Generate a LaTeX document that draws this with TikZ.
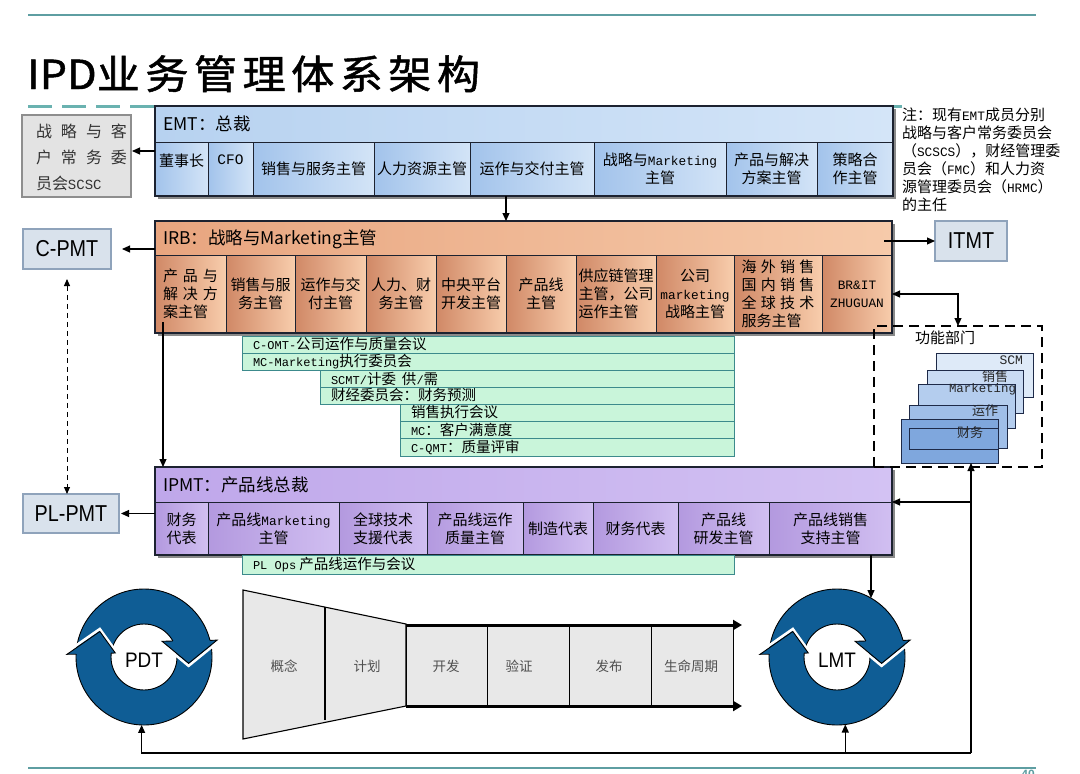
\documentclass[tikz,border=0pt]{standalone}
\usepackage{fontspec}
\usepackage{graphicx}
\setmainfont{Noto Sans CJK SC}
\newfontfamily\titlefam[FakeBold=1.2]{Noto Sans CJK SC}
\newfontfamily\monofam{Liberation Mono}
\newfontfamily\arialfam{Liberation Sans}
\usetikzlibrary{arrows.meta,calc}
\newcommand\fs[2]{\fontsize{#1pt}{#2pt}\selectfont}
\newcommand\mn{\monofam\fontsize{12.8pt}{18pt}\selectfont}
\newcommand\mns{\monofam\fontsize{12pt}{17pt}\selectfont}
\newcommand\gp{\hspace{5pt}}
\newcommand\tg{\hspace{5pt}}
\newcommand\bx[7]{\node[#6,anchor=north west,minimum width={#3-#2},minimum height={#5-#4}] (#1) at (#2,#4) {#7};}
\newcommand\pmt[1]{{\arialfam\fontsize{23pt}{23pt}\selectfont\scalebox{0.86}[1]{#1}}}
\definecolor{tealc}{HTML}{5E9EA2}
\definecolor{dashc}{HTML}{6AB2B0}
\definecolor{frame}{HTML}{1C2230}
\definecolor{emtHL}{HTML}{B7D2F0}\definecolor{emtHR}{HTML}{D4E5F8}
\definecolor{emtCL}{HTML}{A2C3EB}\definecolor{emtCR}{HTML}{D3E4F7}
\definecolor{irbHL}{HTML}{E8A57F}\definecolor{irbHR}{HTML}{F6CAAA}
\definecolor{irbCL}{HTML}{D08866}\definecolor{irbCR}{HTML}{F8CDAC}
\definecolor{ipHL}{HTML}{BFA7EA}\definecolor{ipHR}{HTML}{D3C2F3}
\definecolor{ipCL}{HTML}{B399DF}\definecolor{ipCR}{HTML}{D1BFF1}
\definecolor{gfill}{HTML}{C9F5DA}\definecolor{gline}{HTML}{3C8A8C}
\definecolor{grayfill}{HTML}{E3E3E3}\definecolor{grayline}{HTML}{8E8E8E}
\definecolor{pfill}{HTML}{D9E2EC}\definecolor{pline}{HTML}{8FA3BB}
\definecolor{phfill}{HTML}{E8E8E8}\definecolor{phtext}{HTML}{505050}
\definecolor{cblue}{HTML}{0F5D95}
\definecolor{stkline}{HTML}{1E2A48}
\definecolor{sa}{HTML}{DEEAF8}\definecolor{sb}{HTML}{C9DBF3}\definecolor{sc}{HTML}{B4CDEE}
\definecolor{sd}{HTML}{9FBEE8}\definecolor{se}{HTML}{7FA7DD}
\definecolor{shadowc}{HTML}{8A8A8A}
\newcommand\cyc[4]{%
 \node[circle,minimum size=136pt] (#1) at (#2,#3) {};
 \begin{scope}[shift={(#2,#3)},yscale=-1]
  \fill[cblue,even odd rule] (0,0) circle (68) (0,0) circle (33);
  \draw[line width=.9pt] (0,0) circle (68) (0,0) circle (33);
  \fill[cblue] (18.1,15.7) -- (44.6,-6.3) -- (73.1,16.9) -- cycle;
  \fill[cblue] (-28.7,4) -- (-44.2,25.5) -- (-77,2.7) -- cycle;
  \draw[white,line width=2.6pt] (18.1,13.2) -- (44.6,-8.8) -- (73.1,14.4);
  \draw[white,line width=2.6pt] (-28.7,6.5) -- (-44.2,28) -- (-77,5.2);
  \draw[line width=.9pt] (28.9,16) -- (18.1,15.7) -- (44.6,-6.3) -- (73.1,16.9) -- (65.9,16.6);
  \draw[line width=.9pt] (-32.8,3.9) -- (-28.7,4) -- (-44.2,25.5) -- (-77,2.7) -- (-67.9,2.8);
 \end{scope}
 \node[font=\arialfam\fontsize{21pt}{21pt}\selectfont] (#1t) at (#2,#3+3) {\scalebox{0.9}[1]{#4}};
}
\tikzset{
 every node/.style={inner sep=0pt,outer sep=0pt},
 cellb/.style={draw=frame,line width=1pt,align=center,font=\fs{15}{18},text=black},
 emthead/.style={draw=frame,line width=1pt,left color=emtHL,right color=emtHR},
 emtcell/.style={cellb,left color=emtCL,right color=emtCR},
 irbhead/.style={draw=frame,line width=1pt,left color=irbHL,right color=irbHR},
 irbcell/.style={cellb,left color=irbCL,right color=irbCR},
 iphead/.style={draw=frame,line width=1pt,left color=ipHL,right color=ipHR},
 ipcell/.style={cellb,left color=ipCL,right color=ipCR},
 frm/.style={draw=frame,line width=1.6pt},
 hd/.style={font=\fs{17.5}{20},anchor=west,text=black},
 gbox/.style={draw=gline,line width=1pt,fill=gfill},
 gtxt/.style={font=\fs{14.5}{17},anchor=west,text=black},
 graybox/.style={draw=grayline,line width=1.2pt,fill=grayfill},
 pbox/.style={draw=pline,line width=1.2pt,fill=pfill},
 dbox/.style={draw=black,line width=2pt,dash pattern=on 10pt off 6pt},
 stk/.style={draw=stkline,line width=1pt},
 stxt/.style={font=\fs{13}{15},text=black!85},
 phbox/.style={fill=phfill,draw=black,line width=1pt},
 phtxt/.style={font=\fs{13.5}{16},text=phtext},
 arr/.style={draw=black,line width=1.1pt,-{Triangle[length=8pt,width=7pt]}},
 arrb/.style={draw=black,line width=1.1pt,{Triangle[length=8pt,width=7pt]}-{Triangle[length=8pt,width=7pt]}},
 plain/.style={draw=black,line width=1.1pt},
}
\begin{document}
\begin{tikzpicture}[x=1pt,y=-1pt]
\useasboundingbox[fill=white] (0,0) rectangle (1080,774);
% rules
\draw[tealc,line width=1.5pt] (28,15) -- (1036,15);
\draw[tealc,line width=2pt] (28,768) -- (1036,768);
\node[anchor=north,font=\arialfam\bfseries\fontsize{12pt}{12pt}\selectfont,text=tealc] (pgno) at (1028,770) {40};
\draw[dashc,line width=3pt,dash pattern=on 24pt off 10pt] (28,106) -- (910,106);
% title
\node[anchor=base west,font=\titlefam\fs{40}{40}] (title) at (27,89) {\scalebox{1.08}[1]{IPD业\tg 务\tg 管\tg 理\tg 体\tg 系\tg 架\tg 构}};
% note
\node[anchor=north west,align=left,font=\fs{15}{18}] (note) at (902,108) {注：现有{\mn EMT}成员分别\\战略与客户常务委员会\\（{\mn SCSCS}），财经管理委\\员会（{\mn FMC}）和人力资\\源管理委员会（{\mn HRMC}）\\的主任};
% ---------- EMT
\fill[shadowc] (158,109) rectangle (896,199);
\bx{emth}{155}{893}{106}{142}{emthead}{}
\node[hd] (emtt) at (163,124) {EMT：总裁};
\bx{e1}{155}{208}{142}{196}{emtcell}{董事长\\~}
\bx{e2}{208}{253}{142}{196}{emtcell}{{\monofam\fontsize{14.5pt}{18pt}\selectfont CFO}\\~}
\bx{e3}{253}{374}{142}{196}{emtcell}{销售与服务主管}
\bx{e4}{374}{470}{142}{196}{emtcell}{人力资源主管}
\bx{e5}{470}{594}{142}{196}{emtcell}{运作与交付主管}
\bx{e6}{594}{726}{142}{196}{emtcell}{战略与{\mn Marketing}\\主管}
\bx{e7}{726}{817}{142}{196}{emtcell}{产品与解决\\方案主管}
\bx{e8}{817}{893}{142}{196}{emtcell}{策略合\\作主管}
\bx{emt}{155}{893}{106}{196}{frm}{}
% ---------- IRB
\fill[shadowc] (158,224) rectangle (895,336);
\bx{irbh}{155}{892}{221}{255}{irbhead}{}
\node[hd] (irbt) at (163,239) {IRB：战略与Marketing主管};
\bx{r1}{155}{226}{255}{333}{irbcell,align=left}{产\gp 品\gp 与\\解\gp 决\gp 方\\案主管}
\bx{r2}{226}{295}{255}{333}{irbcell}{销售与服\\务主管}
\bx{r3}{295}{366}{255}{333}{irbcell}{运作与交\\付主管}
\bx{r4}{366}{436}{255}{333}{irbcell}{人力、财\\务主管}
\bx{r5}{436}{506}{255}{333}{irbcell}{中央平台\\开发主管}
\bx{r6}{506}{576}{255}{333}{irbcell}{产品线\\主管}
\bx{r7}{576}{656}{255}{333}{irbcell,align=left}{供应链管理\\主管，公司\\运作主管}
\bx{r8}{656}{734}{255}{333}{irbcell}{公司\\{\mn marketing}\\战略主管}
\bx{r9}{734}{822}{255}{333}{irbcell,align=left}{海\hspace{4.3pt}外\hspace{4.3pt}销\hspace{4.3pt}售\\国\hspace{4.3pt}内\hspace{4.3pt}销\hspace{4.3pt}售\\全\hspace{4.3pt}球\hspace{4.3pt}技\hspace{4.3pt}术\\服务主管}
\bx{r10}{822}{892}{255}{333}{irbcell}{{\mn BR\&IT}\\{\mn ZHUGUAN}}
\bx{irb}{155}{892}{221}{333}{frm}{}
% ---------- green committees
\bx{g1}{242}{734}{336}{353}{gbox}{}
\node[gtxt] (g1t) at (253,344.5) {{\mns C-OMT-}公司运作与质量会议};
\bx{g2}{242}{734}{353}{370}{gbox}{}
\node[gtxt] (g2t) at (253,361.5) {{\mns MC-Marketing}执行委员会};
\bx{g3}{320}{734}{370}{387}{gbox}{}
\node[gtxt] (g3t) at (331,378.5) {{\mns SCMT/}计委\hspace{6pt}供{\mns /}需};
\bx{g4}{320}{734}{387}{404}{gbox}{}
\node[gtxt] (g4t) at (331,395.5) {财经委员会：财务预测};
\bx{g5}{400}{734}{404}{421}{gbox}{}
\node[gtxt] (g5t) at (411,412.5) {销售执行会议};
\bx{g6}{400}{734}{421}{438}{gbox}{}
\node[gtxt] (g6t) at (411,429.5) {{\mns MC}：客户满意度};
\bx{g7}{400}{734}{438}{456}{gbox}{}
\node[gtxt] (g7t) at (411,447) {{\mns C-QMT}：质量评审};
% ---------- IPMT
\fill[shadowc] (158,470) rectangle (895,558);
\bx{ipmth}{155}{892}{467}{502}{iphead}{}
\node[hd] (ipmtt) at (163,485) {IPMT：产品线总裁};
\bx{p1}{155}{208}{502}{555}{ipcell}{财务\\代表}
\bx{p2}{208}{339}{502}{555}{ipcell}{产品线{\mn Marketing}\\主管}
\bx{p3}{339}{427}{502}{555}{ipcell}{全球技术\\支援代表}
\bx{p4}{427}{523}{502}{555}{ipcell}{产品线运作\\质量主管}
\bx{p5}{523}{593}{502}{555}{ipcell}{制造代表}
\bx{p6}{593}{678}{502}{555}{ipcell}{财务代表}
\bx{p7}{678}{769}{502}{555}{ipcell}{产品线\\研发主管}
\bx{p8}{769}{892}{502}{555}{ipcell}{产品线销售\\支持主管}
\bx{ipmt}{155}{892}{467}{555}{frm}{}
\bx{plops}{242}{734}{555}{574}{gbox}{}
\node[gtxt] (plopst) at (253,564.5) {{\mns PL Ops} 产品线运作与会议};
% ---------- side boxes
\bx{scsc}{22}{131}{115}{197}{graybox}{}
\node[anchor=west,align=left,font=\fs{16}{26},text=black!80] (scsct) at (36,157) {战\hspace{9pt}略\hspace{9pt}与\hspace{9pt}客\\户\hspace{9pt}常\hspace{9pt}务\hspace{9pt}委\\员会{\monofam\fontsize{14pt}{26pt}\selectfont SCSC}};
\bx{cpmt}{23}{111}{229}{269}{pbox}{\pmt{C-PMT}}
\bx{plpmt}{23}{119}{494}{533}{pbox}{\pmt{PL-PMT}}
\bx{itmt}{935}{1007}{221}{261}{pbox}{\pmt{ITMT}}
% ---------- functional departments
\bx{gong}{874}{1042}{326}{467}{dbox}{}
\node[font=\fs{15}{17}] (gongt) at (945,338) {功能部门};
\bx{w1}{936}{1033}{353}{397}{stk,fill=sa}{}
\node[stxt,anchor=east] (w1t) at (1023,360) {{\monofam\fontsize{13pt}{15pt}\selectfont SCM}};
\bx{w2}{927}{1023}{370}{413}{stk,fill=sb}{}
\node[stxt] (w2t) at (995,377) {销售};
\bx{w3}{918}{1015}{384}{428}{stk,fill=sc}{}
\node[stxt,anchor=east] (w3t) at (1016,389) {{\monofam\fontsize{12.4pt}{15pt}\selectfont Marketing}};
\bx{w4}{909}{1007}{405}{448}{stk,fill=sd}{}
\node[stxt] (w4t) at (985,411) {运作};
\bx{w5}{901}{998}{419}{463}{stk,fill=se}{}
\bx{w5in}{909}{998}{428}{449}{stk}{}
\node[stxt] (w5t) at (970,433) {财务};
% ---------- funnel and phases
\filldraw[fill=phfill,draw=black,line width=1.1pt] (243,590) -- (406,624) -- (406,706) -- (243,739) -- cycle;
\draw[line width=1.1pt] (325,607) -- (325,720);
\bx{ph3}{406}{487}{625}{706}{phbox}{}
\bx{ph4}{487}{569}{625}{706}{phbox}{}
\bx{ph5}{569}{651}{625}{706}{phbox}{}
\bx{ph6}{651}{733}{625}{706}{phbox}{}
\draw[line width=3pt,-{Triangle[length=9pt,width=10pt]}] (ph3.north west) -- ($(ph6.north east)+(9,0)$);
\draw[line width=3pt,-{Triangle[length=9pt,width=10pt]}] (ph3.south west) -- ($(ph6.south east)+(9,0)$);
\node[phtxt] (ph1t) at (284,666) {概念};
\node[phtxt] (ph2t) at (367,666) {计划};
\node[phtxt] (ph3t) at (446,666) {开发};
\node[phtxt] (ph4t) at (519,666) {验证};
\node[phtxt] (ph5t) at (609,666) {发布};
\node[phtxt] (ph6t) at (691,666) {生命周期};
% ---------- cycles
\cyc{pdt}{144}{657}{PDT}
\cyc{lmt}{837}{657}{LMT}
% ---------- connectors
\draw[arr] (emt.west) -- ($(emt.west -| scsc.east)+(1,0)$);
\draw[arr] (emt.south -| r6.west) -- (irb.north -| r6.west);
\draw[arr] (irbh.west |- cpmt.east) -- ($(cpmt.east)+(11,0)$);
\draw[arr] ($(irbh.east |- itmt.west)+(-8,0)$) -- (itmt.west);
\draw[arrb] (r10.east) -| (gong.north);
\coordinate (irbdrop) at (163,322);
\draw[arr] (irbdrop) -- (irbdrop |- ipmt.north);
\draw[arr] (ipmt.west |- plpmt.east) -- ($(plpmt.east)+(2,0)$);
\draw[draw=black,line width=1pt,dash pattern=on 5pt off 4pt,{Triangle[length=7pt,width=6pt]}-{Triangle[length=7pt,width=6pt]}] ($(cpmt.south)+(0,10)$) -- (cpmt.south |- plpmt.north);
\coordinate (fb) at (971,753);
\draw[arr] (fb) -- (fb |- w5.south);
\draw[arr] (fb |- ipmth.south east) -- (ipmth.south east);
\draw[arr] (lmt.60 |- ipmt.south) -- (lmt.60);
\draw[arrb] (pdt.-92) -- (pdt.-92 |- fb) -- (lmt.-83 |- fb) -- (lmt.-83);
\draw[plain] (lmt.-83 |- fb) -- (fb);
\end{tikzpicture}
\end{document}
